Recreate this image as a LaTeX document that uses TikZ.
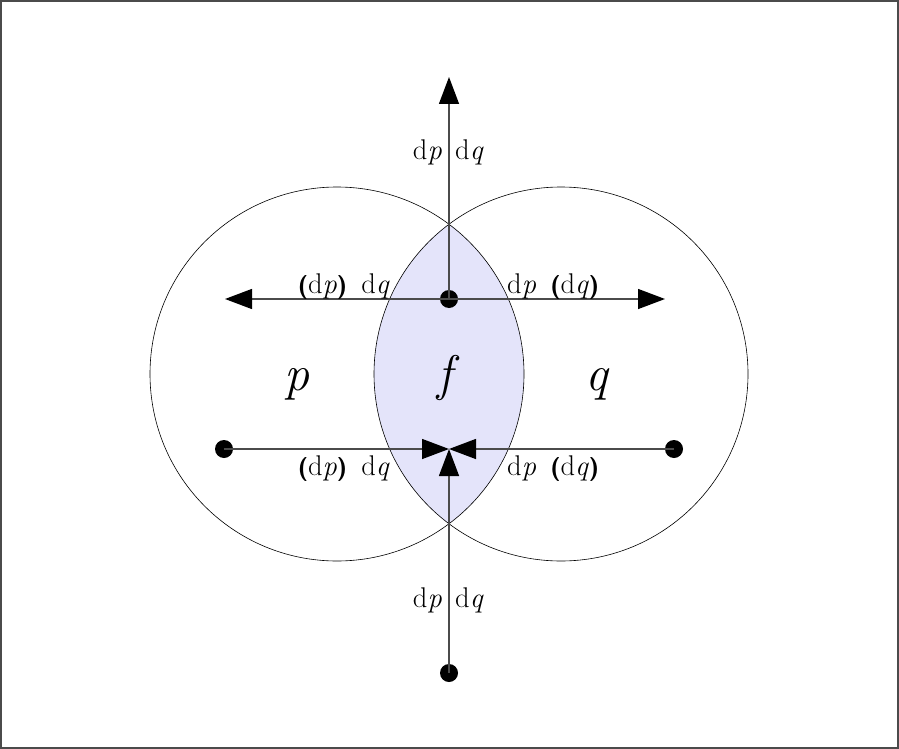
\documentclass[tikz,border=0pt]{standalone}
\usepackage{fontspec}
\usetikzlibrary{arrows.meta}
\definecolor{lensfill}{RGB}{228,228,250}
\definecolor{axisgray}{RGB}{75,75,75}
\tikzset{
  x=1pt, y=-1pt,
  dotnode/.style={circle, fill=black, inner sep=0pt, minimum size=18pt},
  axis/.style={draw=axisgray, line width=1.4pt, -{Triangle[length=27pt,width=20pt,color=black]}},
  circ/.style={draw=black, line width=0.6pt},
  lbl/.style={font=\fontsize{28.5}{32}\selectfont, inner sep=0pt},
  big/.style={font=\fontsize{50}{56}\selectfont, inner sep=0pt, anchor=base}
}
\newcommand{\bp}[1]{{\fontsize{24}{28}\selectfont\textsf{\textbf{#1}}}}
\newcommand{\dd}[1]{d\textit{#1}}
\newcommand{\gap}{\hspace{0.5em}}
\begin{document}
\begin{tikzpicture}
\useasboundingbox (0,0) rectangle (899,749);
\draw[draw=axisgray, line width=1.2pt] (1,1) rectangle (898,748);
% lens
\begin{scope}
  \clip (337,374) circle[radius=187];
  \fill[lensfill] (561,374) circle[radius=187];
\end{scope}
\draw[circ] (337,374) circle[radius=187];
\draw[circ] (561,374) circle[radius=187];
% dots and coordinates
\node[dotnode] (c) at (449,299) {};
\node[dotnode] (bl) at (224,449) {};
\node[dotnode] (br) at (674,449) {};
\node[dotnode] (bb) at (449,673) {};
\coordinate (top) at (449,77);
\coordinate (left) at (225,299);
\coordinate (right) at (665,299);
\coordinate (meet) at (449,449);
% arrows
\draw[axis] (c.center) -- (top);
\draw[axis] (c.center) -- (left);
\draw[axis] (c.center) -- (right);
\draw[axis] (bl.center) -- (meet);
\draw[axis] (br.center) -- (meet);
\draw[axis] (bb.center) -- (meet);
% labels
\node[lbl, anchor=base east] (t1) at (442,160) {\dd{p}};
\node[lbl, anchor=base west] (t2) at (455,160) {\dd{q}};
\node[lbl, anchor=base east] (b1) at (442,607) {\dd{p}};
\node[lbl, anchor=base west] (b2) at (455,607) {\dd{q}};
\node[lbl, anchor=base east] (ul) at (390,293) {\bp{(}\dd{p}\bp{)}\gap\dd{q}};
\node[lbl, anchor=base west] (ur) at (507,293) {\dd{p}\gap\bp{(}\dd{q}\bp{)}};
\node[lbl, anchor=base east] (ll) at (390,475) {\bp{(}\dd{p}\bp{)}\gap\dd{q}};
\node[lbl, anchor=base west] (lr) at (507,475) {\dd{p}\gap\bp{(}\dd{q}\bp{)}};
\node[big] (P) at (297,390) {\textit{p}};
\node[big] (F) at (449,390) {\textit{f}};
\node[big] (Q) at (598,390) {\textit{q}};
\end{tikzpicture}
\end{document}
